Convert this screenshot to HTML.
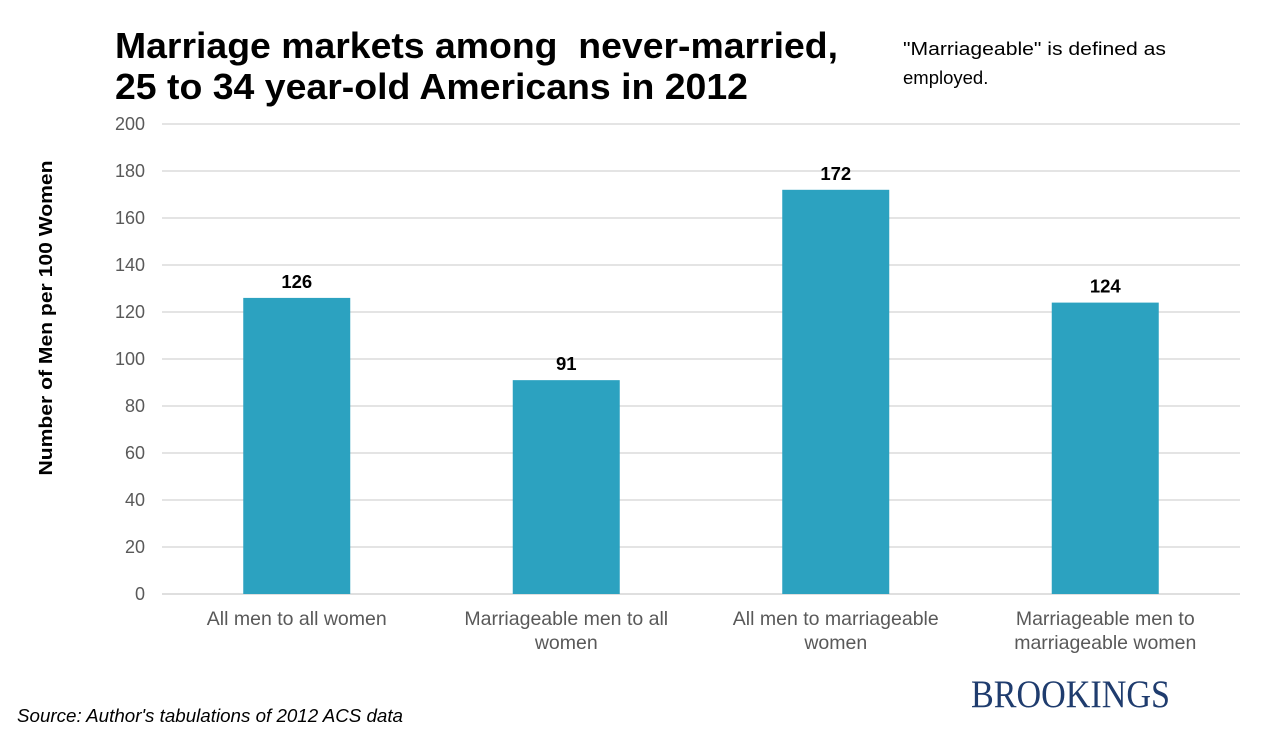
<!DOCTYPE html>
<html><head><meta charset="utf-8">
<style>
html,body{margin:0;padding:0;background:#fff;}
body{width:1263px;height:737px;overflow:hidden;}
svg{display:block;font-family:"Liberation Sans",Arial,sans-serif;}
</style></head>
<body>
<svg id="chart" width="1263" height="737">
  <text x="115" y="58" font-size="36" font-weight="bold" fill="#000" xml:space="preserve" textLength="723" lengthAdjust="spacingAndGlyphs">Marriage markets among  never-married,</text>
  <text x="115" y="99" font-size="36" font-weight="bold" fill="#000" textLength="633" lengthAdjust="spacingAndGlyphs">25 to 34 year-old Americans in 2012</text>
  <text x="903" y="55" font-size="18.5" fill="#000" textLength="263" lengthAdjust="spacingAndGlyphs">"Marriageable" is defined as</text>
  <text x="903" y="84" font-size="18.5" fill="#000">employed.</text>
  <text transform="translate(52,318) rotate(-90)" text-anchor="middle" font-size="18" font-weight="bold" fill="#000" textLength="315" lengthAdjust="spacingAndGlyphs">Number of Men per 100 Women</text>
  <g id="grid"></g>
  <g id="bars"></g>
  <text x="17" y="722" font-size="18" font-style="italic" fill="#000" textLength="386" lengthAdjust="spacingAndGlyphs">Source: Author's tabulations of 2012 ACS data</text>
  <text x="971" y="707" font-size="39" font-family="Liberation Serif,serif" fill="#1f3c6e" textLength="199" lengthAdjust="spacingAndGlyphs">BROOKINGS</text>
</svg>
<script>
const categories = [["All men to all women"],["Marriageable men to all","women"],["All men to marriageable","women"],["Marriageable men to","marriageable women"]];
const values = [126, 91, 172, 124];
const yTicks = [0,20,40,60,80,100,120,140,160,180,200];

const NS="http://www.w3.org/2000/svg";
const x0=162, x1=1240, yBase=594, yTop=124, yMax=200;
const yScale=v=>yBase-(v/yMax)*(yBase-yTop);
const band=(x1-x0)/categories.length;
const barW=107;
function mk(t,a,p){const e=document.createElementNS(NS,t);for(const k in a)e.setAttribute(k,a[k]);p.appendChild(e);return e;}
const grid=document.getElementById('grid');
yTicks.forEach(t=>{
  const y=yScale(t);
  const l=mk('line',{x1:x0,x2:x1,y1:y,y2:y,stroke:t===0?'#bfbfbf':'#c8c8c8','stroke-width':1},grid);
  
  
  const tx=mk('text',{x:145,y:y+6,'text-anchor':'end','font-size':18,fill:'#595959'},grid);
  
  
  tx.textContent=t;
});
const bars=document.getElementById('bars');
values.forEach((v,i)=>{
  const cx=x0+band*(i+0.5);
  const r=mk('rect',{x:cx-barW/2,y:yScale(v),width:barW,height:yBase-yScale(v),fill:'#2ca2c0'},bars);
  
  
  const vl=mk('text',{x:cx,y:yScale(v)-10,'text-anchor':'middle','font-size':18.5,'font-weight':'bold',fill:'#000'},bars);
  
  
  vl.textContent=v;
  categories[i].forEach((line,j)=>{
    const c=mk('text',{x:cx,y:625+j*24,'text-anchor':'middle','font-size':19.5,fill:'#595959'},bars);
    
    
    c.textContent=line;
  });
});
</script>
</body></html>
